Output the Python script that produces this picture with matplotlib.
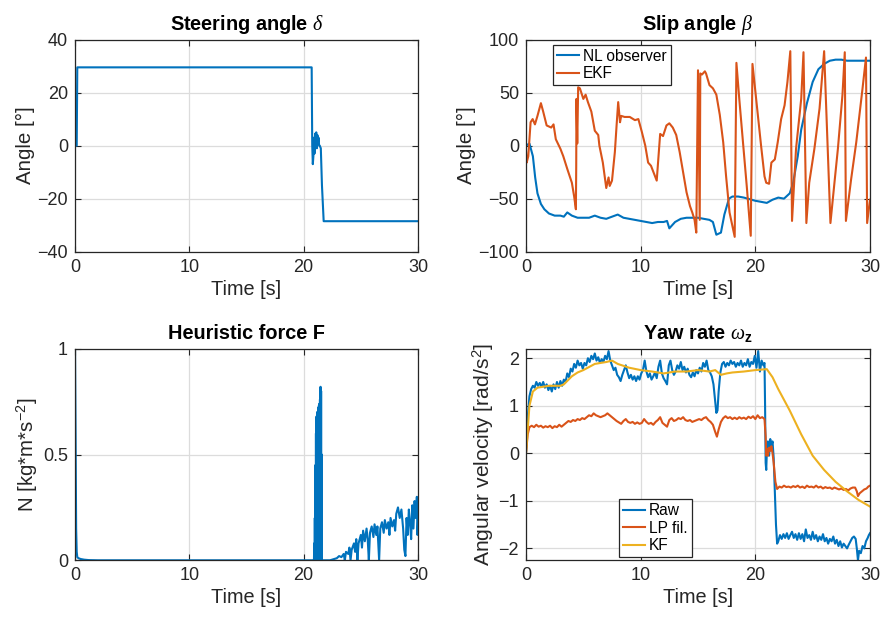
import matplotlib
matplotlib.use("Agg")
import matplotlib.pyplot as plt

plt.rcParams['font.family'] = ['Liberation Sans', 'DejaVu Sans']
plt.rcParams['mathtext.fontset'] = 'custom'
plt.rcParams['mathtext.rm'] = 'Liberation Sans'
plt.rcParams['mathtext.it'] = 'Liberation Serif:italic'
plt.rcParams['mathtext.bf'] = 'Liberation Sans:bold'

C_BLUE = '#0072BD'
C_ORANGE = '#D95319'
C_YELLOW = '#EDB120'
TXT = '#262626'

# ---------------- Data ----------------
x_ticks = [0, 10, 20, 30]

# Steering angle delta [deg]
steer_t = [0, 0.15, 0.2, 20.7, 20.75, 20.8, 20.85, 20.9, 20.95, 21.0, 21.05, 21.1, 21.15,
           21.2, 21.25, 21.3, 21.35, 21.4, 21.5, 21.6, 21.75, 30]
steer_v = [0, 0, 29.5, 29.5, 0, -7, -4, 3, -3, 4.5, 0, 5, -1, 4, 1, 3, 0, 0, -1, -15,
           -28.5, -28.5]

# Slip angle beta [deg]
nl_t = [0, 0.3, 0.6, 0.8, 1.0, 1.3, 1.6, 2.0, 2.5, 3.0, 3.3, 3.6, 4.0, 4.5, 5.0, 5.5, 6.0,
        6.5, 7.0, 7.5, 8.0, 8.5, 9.0, 10.0, 10.5, 11.0, 11.5, 12.0, 12.3, 12.5, 13.0, 13.5,
        14.0, 15.0, 16.0, 16.3, 16.6, 17.0, 17.3, 17.7, 18.0, 18.5, 19.0, 20.0, 20.5, 21.0,
        21.5, 22.0, 22.5, 23.0, 23.3, 23.7, 24.0, 24.5, 25.0, 25.5, 26.0, 26.5, 27.0, 27.5,
        28.0, 29.0, 30.0]
nl_v = [0, 2, -10, -30, -45, -55, -60, -64, -66, -66, -67, -63, -66, -68, -68, -68, -66,
        -68, -69, -67, -65, -68, -69, -71, -72, -73, -72, -72, -71, -78, -72, -69,
        -68, -68, -70, -72, -84, -82, -65, -50, -48, -48, -49, -52, -53, -54,
        -51, -49, -50, -45, -35, -10, 15, 40, 60, 72, 77, 80, 81, 81,
        80, 80, 80]

ekf_t = [0.0, 0.06, 0.2, 0.4, 0.58, 0.78, 1.0, 1.3, 1.5, 1.8, 2.2, 2.4, 2.6, 3.0, 3.25, 3.6,
         4.0, 4.2, 4.35, 4.38, 4.4, 4.47, 4.55, 4.7, 5.0, 5.2, 5.4, 5.7, 6.0, 6.3, 6.4, 6.7,
         7.0, 7.2, 7.3, 7.5, 7.75, 7.9, 8.04, 8.2, 8.3, 8.6, 9.05, 9.5, 9.8, 10.1, 10.4,
         10.65, 10.9, 11.4, 11.7, 11.95, 12.25, 12.5, 12.8, 13.1, 13.4, 13.7, 14.0, 14.3,
         14.5, 14.7, 14.85, 15.0, 15.15, 15.2, 15.35, 15.6, 15.7, 16.0, 16.3, 16.6, 16.9,
         17.2, 17.45, 17.75, 18.2, 18.35, 18.6, 18.9, 19.25, 19.6, 19.75, 20.1, 20.5, 20.8,
         20.95, 21.2, 21.4, 21.7, 21.95, 22.25, 22.55, 22.8, 23.05, 23.2, 23.55, 24.0, 24.2,
         24.45, 24.7, 25.15, 25.6, 26.0, 26.55, 26.9, 27.2, 27.6, 27.8, 27.9, 28.35, 28.8,
         29.35, 29.65, 29.75, 30.0]
ekf_v = [-5, -16, -10, 22, 25, 20, 28, 40, 32, 19, 17, 20, 6, -3, -10, -22,
         -35, -48, -60, -19, 44, 2, 55, 54, 44, 48, 41, 32, 14, 10, 0, -16,
         -40, -30, -38, -33, -6, 19, 41, 22, 28, 27, 27, 24, 25, 13, 0,
         -16, -19, -33, 11, 9, 19, 21, 17, 10, -6, -25, -44, -57,
         -63, -70, -82, 71, -70, 68, 67, 70, 68, 57, 54, 48, 29,
         3, -29, -63, -86, 78, 44, 6, -38, -85, 77, 41, 0, -29,
         -35, -36, -16, -13, 3, 25, 38, 60, 89, -71, -3, 44, 88,
         -73, -35, -3, 35, 89, -73, -35, -3, 48, 88, -71, -32, 3,
         54, 83, -73, -51]

# Heuristic force F
force_t = [0, 0.05, 0.1, 0.15, 0.2, 0.3, 0.5, 0.8, 1.2, 2.0, 20.85,
           20.9, 20.925, 20.95, 20.975, 21.0, 21.025, 21.05, 21.075, 21.1, 21.125, 21.15,
           21.175, 21.2, 21.225, 21.25, 21.275, 21.3, 21.325, 21.35, 21.375, 21.4, 21.425,
           21.45, 21.475, 21.5, 21.525, 21.55, 21.575, 21.6, 21.65,
           22.3, 22.6, 22.9, 23.1, 23.3, 23.5, 23.6, 23.7, 23.9, 24.0, 24.1, 24.2, 24.4,
           24.5, 24.6, 24.7, 24.8, 25.0, 25.1, 25.2, 25.35, 25.5, 25.6, 25.7, 25.8, 25.95,
           26.1, 26.2, 26.35, 26.45, 26.6, 26.7, 26.85, 27.0, 27.1, 27.25, 27.4, 27.5, 27.6,
           27.75, 27.9, 28.0, 28.1, 28.25, 28.4, 28.55, 28.7, 28.8, 28.9, 29.0, 29.1, 29.2,
           29.3, 29.4, 29.5, 29.6, 29.7, 29.8, 29.9, 29.95, 30.0]
force_v = [1.0, 0.6, 0.15, 0.04, 0.015, 0.01, 0.006, 0.003, 0.001, 0.0, 0.0,
           0.0, 0.08, 0.0, 0.2, 0.0, 0.45, 0.02, 0.6, 0.0, 0.68, 0.05,
           0.7, 0.0, 0.7, 0.1, 0.72, 0.0, 0.73, 0.05, 0.74, 0.0, 0.76,
           0.1, 0.82, 0.0, 0.8, 0.0, 0.5, 0.0, 0.0,
           0.0, 0.005, 0.01, 0.02, 0.015, 0.03, 0.0, 0.04, 0.03, 0.06, 0.0, 0.05, 0.08,
           0.04, 0.1, 0.0, 0.08, 0.12, 0.06, 0.14, 0.09, 0.15, 0.1, 0.0, 0.13, 0.16,
           0.11, 0.17, 0.12, 0.16, 0.0, 0.15, 0.18, 0.13, 0.19, 0.15, 0.18, 0.12, 0.2,
           0.16, 0.19, 0.14, 0.22, 0.25, 0.2, 0.24, 0.15, 0.05, 0.02, 0.2, 0.12, 0.24,
           0.18, 0.1, 0.26, 0.15, 0.28, 0.2, 0.3, 0.12, 0.18]

# Yaw rate omega_z
raw_t = [0.0, 0.15, 0.3, 0.45, 0.6, 0.75, 0.9, 1.05, 1.2, 1.35, 1.5, 1.65, 1.8, 1.95, 2.1,
         2.25, 2.4, 2.55, 2.7, 2.85, 3.0, 3.15, 3.3, 3.45, 3.6, 3.75, 3.9, 4.05, 4.2, 4.35,
         4.5, 4.65, 4.8, 4.95, 5.1, 5.25, 5.4, 5.55, 5.7, 5.85, 6.0, 6.15, 6.3, 6.45, 6.6,
         6.75, 6.9, 7.05, 7.2, 7.35, 7.5, 7.65, 7.8, 7.95, 8.1, 8.25, 8.4, 8.55, 8.7, 8.85,
         9.0, 9.15, 9.3, 9.45, 9.6, 9.75, 9.9, 10.05, 10.2, 10.35, 10.5, 10.65, 10.8, 10.95,
         11.1, 11.25, 11.4, 11.55, 11.7, 11.85, 12.0, 12.15, 12.3, 12.45, 12.6, 12.75, 12.9,
         13.05, 13.2, 13.35, 13.5, 13.65, 13.8, 13.95, 14.1, 14.25, 14.4, 14.55, 14.7, 14.85,
         15.0, 15.15, 15.3, 15.45, 15.6, 15.75, 15.9, 16.05, 16.2, 16.35, 16.5, 16.6, 16.7,
         16.8, 16.95, 17.1, 17.25, 17.4, 17.55, 17.7, 17.85, 18.0, 18.15, 18.3, 18.45, 18.6,
         18.75, 18.9, 19.05, 19.2, 19.35, 19.5, 19.65, 19.8, 19.95, 20.1, 20.25, 20.4, 20.55,
         20.7, 20.8, 20.85, 20.9, 20.95, 21.0, 21.1, 21.2, 21.3, 21.4, 21.5, 21.6, 21.7, 21.8,
         21.9, 22.0, 22.15, 22.3, 22.45, 22.6, 22.75, 22.9, 23.05, 23.2, 23.35, 23.5, 23.65,
         23.8, 23.95, 24.1, 24.25, 24.4, 24.55, 24.7, 24.85, 25.0, 25.15, 25.3, 25.45, 25.6,
         25.75, 25.9, 26.05, 26.2, 26.35, 26.5, 26.65, 26.8, 26.95, 27.1, 27.25, 27.4, 27.55,
         27.7, 27.85, 28.0, 28.15, 28.3, 28.45, 28.6, 28.75, 28.85, 28.95, 29.05, 29.2, 29.35,
         29.5, 29.65, 29.8, 29.9, 30.0]
raw_v = [0.0, 0.75, 1.2, 1.35, 1.42, 1.38, 1.5, 1.42, 1.48, 1.4, 1.5, 1.38, 1.45, 1.33, 1.42,
         1.3, 1.45, 1.35, 1.5, 1.38, 1.52, 1.42, 1.55, 1.5, 1.68, 1.6, 1.78, 1.72, 1.88, 1.8,
         1.95, 1.85, 1.9, 1.78, 1.9, 1.85, 2.0, 1.92, 2.05, 1.98, 2.1, 1.95, 2.02, 1.9, 1.98,
         1.92, 2.05, 1.98, 2.15, 1.95, 1.85, 1.75, 1.8, 1.65, 1.6, 1.52, 1.65, 1.75, 1.85, 1.7,
         1.58, 1.65, 1.55, 1.62, 1.52, 1.62, 1.55, 1.68, 1.75, 1.95, 1.72, 1.6, 1.68, 1.55,
         1.62, 1.7, 1.58, 1.82, 1.95, 1.68, 1.58, 1.52, 1.45, 1.85, 1.95, 1.75, 1.65,
         1.72, 1.85, 1.78, 1.92, 1.75, 1.82, 1.7, 1.78, 1.65, 1.6, 1.7, 1.62, 1.75,
         1.68, 1.8, 1.72, 1.9, 1.82, 1.95, 1.75, 1.7, 1.62, 1.45, 1.1, 0.85, 0.9,
         1.3, 1.7, 1.88, 1.92, 1.82, 1.9, 1.85, 1.95, 1.88, 1.92, 1.82, 1.9, 1.85,
         1.95, 1.82, 1.9, 1.85, 1.98, 1.82, 1.92, 1.88, 2.05, 1.8, 2.15, 1.72, 1.95,
         1.85, 1.9, 1.0, -0.2, -0.35, 0.0, 0.25, -0.05, 0.3, 0.15, 0.25, -0.1, -0.8, -1.5,
         -1.9, -1.85, -1.72, -1.8, -1.7, -1.78, -1.68, -1.8, -1.72, -1.65, -1.78, -1.7, -1.82,
         -1.68, -1.8, -1.7, -1.85, -1.6, -1.78, -1.72, -1.82, -1.65, -1.8, -1.72, -1.85, -1.75,
         -1.82, -1.7, -1.85, -1.78, -1.9, -1.8, -1.85, -1.75, -1.9, -1.82, -1.95, -1.85, -1.98,
         -1.9, -1.95, -2.0, -1.92, -1.85, -1.78, -1.75, -1.8, -2.0, -2.25, -2.05, -2.1, -1.95,
         -2.0, -1.85, -1.78, -1.72, -1.68]

lp_t = [0.0, 0.15, 0.3, 0.5, 0.7, 0.9, 1.1, 1.3, 1.5, 1.7, 1.9, 2.1, 2.3, 2.5, 2.7, 2.9, 3.1,
        3.3, 3.5, 3.7, 3.9, 4.1, 4.3, 4.5, 4.7, 4.9, 5.1, 5.3, 5.5, 5.7, 5.9, 6.1, 6.3, 6.5,
        6.7, 6.9, 7.1, 7.3, 7.5, 7.7, 7.9, 8.1, 8.3, 8.5, 8.7, 8.9, 9.1, 9.3, 9.5, 9.7, 9.9,
        10.1, 10.3, 10.5, 10.7, 10.9, 11.1, 11.3, 11.5, 11.7, 11.9, 12.1, 12.3, 12.5, 12.7,
        12.9, 13.1, 13.3, 13.5, 13.7, 13.9, 14.1, 14.3, 14.5, 14.7, 14.9, 15.1, 15.3, 15.5,
        15.7, 15.9, 16.1, 16.3, 16.5, 16.65, 16.8, 17.0, 17.2, 17.4, 17.6, 17.8, 18.0, 18.2,
        18.4, 18.6, 18.8, 19.0, 19.2, 19.4, 19.6, 19.8, 20.0, 20.2, 20.4, 20.6, 20.8, 20.9,
        20.95, 21.0, 21.1, 21.2, 21.3, 21.4, 21.5, 21.6, 21.75, 21.9, 22.1, 22.3, 22.5, 22.7,
        22.9, 23.1, 23.3, 23.5, 23.7, 23.9, 24.1, 24.3, 24.5, 24.7, 24.9, 25.1, 25.3, 25.5,
        25.7, 25.9, 26.1, 26.3, 26.5, 26.7, 26.9, 27.1, 27.3, 27.5, 27.7, 27.9, 28.1, 28.3,
        28.5, 28.7, 28.85, 28.95, 29.1, 29.3, 29.5, 29.7, 29.85, 30.0]
lp_v = [0.0, 0.4, 0.55, 0.58, 0.55, 0.6, 0.56, 0.58, 0.54, 0.57, 0.55, 0.58, 0.53, 0.57, 0.55,
        0.6, 0.56, 0.6, 0.64, 0.68, 0.66, 0.7, 0.68, 0.72, 0.7, 0.74, 0.72, 0.76, 0.8, 0.78,
        0.84, 0.8, 0.78, 0.76, 0.78, 0.8, 0.84, 0.8, 0.76, 0.72, 0.68, 0.65, 0.62, 0.68, 0.72,
        0.66, 0.64, 0.66, 0.62, 0.65, 0.62, 0.64, 0.72, 0.66, 0.62, 0.64, 0.6, 0.66, 0.7,
        0.76, 0.64, 0.6, 0.56, 0.7, 0.74, 0.68, 0.7, 0.74, 0.72, 0.76, 0.7, 0.68, 0.7, 0.66,
        0.68, 0.7, 0.72, 0.7, 0.74, 0.76, 0.7, 0.66, 0.6, 0.45, 0.35, 0.5, 0.66, 0.74, 0.78,
        0.74, 0.76, 0.72, 0.75, 0.72, 0.76, 0.73, 0.75, 0.72, 0.77, 0.74, 0.78, 0.72, 0.8,
        0.74, 0.76, 0.72, 0.35, -0.05, 0.1, -0.05, 0.12, 0.05, 0.15, 0.0, -0.2, -0.6, -0.75,
        -0.7, -0.72, -0.68, -0.71, -0.7, -0.72, -0.69, -0.71, -0.68, -0.72, -0.7, -0.73,
        -0.68, -0.71, -0.7, -0.72, -0.68, -0.72, -0.7, -0.74, -0.71, -0.73, -0.72, -0.75,
        -0.72, -0.74, -0.76, -0.74, -0.77, -0.75, -0.78, -0.74, -0.72, -0.72, -0.8, -0.9,
        -0.84, -0.8, -0.76, -0.74, -0.7, -0.68]

kf_t = [0, 0.3, 0.6, 1.0, 1.5, 2.0, 3.0, 3.3, 4.0, 4.5, 5.0, 6.0, 7.0, 7.5, 8.0, 9.0, 10.0,
        11.0, 12.0, 13.0, 14.0, 15.0, 16.0, 16.5, 17.0, 17.5, 18.0, 19.0, 20.0, 21.0, 21.5,
        22.0, 23.0, 24.0, 25.0, 26.0, 27.0, 28.0, 29.0, 30.0]
kf_v = [0, 1.0, 1.3, 1.38, 1.4, 1.42, 1.42, 1.45, 1.62, 1.7, 1.75, 1.88, 1.92, 1.95, 1.88,
        1.8, 1.75, 1.72, 1.68, 1.72, 1.72, 1.75, 1.72, 1.75, 1.65, 1.68, 1.7, 1.72, 1.75,
        1.77, 1.6, 1.35, 0.9, 0.4, -0.05, -0.35, -0.6, -0.8, -0.98, -1.12]

# ---------------- Figure ----------------
fig = plt.figure(figsize=(8.86, 6.23), dpi=100)
W, H = 886, 623

def make_ax(l, r, t, b):
    return fig.add_axes([l / W, 1 - b / H, (r - l) / W, (b - t) / H])

ax1 = make_ax(75, 418, 39.5, 251.7)
ax2 = make_ax(526, 870, 39.5, 251.7)
ax3 = make_ax(75, 418, 348.7, 560.3)
ax4 = make_ax(526, 870, 348.7, 560.3)

LW = 1.5

def style(ax, yticks, ylim, yticklabels=None):
    ax.set_xlim(0, 30)
    ax.set_ylim(*ylim)
    ax.set_xticks(x_ticks)
    ax.set_yticks(yticks)
    if yticklabels is not None:
        ax.set_yticklabels(yticklabels)
    ax.grid(True, color='#dcdcdc', linewidth=0.9)
    ax.set_axisbelow(True)
    ax.tick_params(direction='in', length=4, width=0.8, colors=TXT, labelsize=13,
                   top=True, right=True, pad=5)
    for s in ax.spines.values():
        s.set_color(TXT)
        s.set_linewidth(0.9)
    ax.set_xlabel('Time [s]', fontsize=14.3, color=TXT, labelpad=3)

LEG = dict(fontsize=11.2, fancybox=False, framealpha=1, edgecolor=TXT, borderaxespad=0,
           handlelength=1.45, handletextpad=0.25, borderpad=0.25, labelspacing=0.15)

# Steering
ax1.plot(steer_t, steer_v, color=C_BLUE, lw=LW)
style(ax1, [-40, -20, 0, 20, 40], (-40, 40))
ax1.set_title(r'Steering angle $\delta$', fontsize=14.3, fontweight='bold', pad=7)
ax1.set_ylabel('Angle [°]', fontsize=14.8, color=TXT, labelpad=2)

# Slip
ax2.plot(nl_t, nl_v, color=C_BLUE, lw=LW, label='NL observer')
ax2.plot(ekf_t, ekf_v, color=C_ORANGE, lw=LW, label='EKF')
style(ax2, [-100, -50, 0, 50, 100], (-100, 100))
ax2.set_title(r'Slip angle $\beta$', fontsize=14.3, fontweight='bold', pad=7)
ax2.set_ylabel('Angle [°]', fontsize=14.8, color=TXT, labelpad=2)
leg = ax2.legend(loc='upper left', bbox_to_anchor=(0.078, 0.975), **LEG)
leg.get_frame().set_linewidth(0.9)

# Force
ax3.plot(force_t, force_v, color=C_BLUE, lw=LW)
style(ax3, [0, 0.5, 1], (0, 1), ['0', '0.5', '1'])
ax3.set_title('Heuristic force F', fontsize=14.3, fontweight='bold', pad=7)
ax3.set_ylabel(r'N [kg*m*s$^{-2}$]', fontsize=14.8, color=TXT, labelpad=2)

# Yaw
ax4.plot(raw_t, raw_v, color=C_BLUE, lw=LW, label='Raw')
ax4.plot(lp_t, lp_v, color=C_ORANGE, lw=LW, label='LP fil.')
ax4.plot(kf_t, kf_v, color=C_YELLOW, lw=LW, label='KF')
style(ax4, [-2, -1, 0, 1, 2], (-2.25, 2.2))
ax4.set_title(r'Yaw rate $\omega_{\mathbf{z}}$', fontsize=14.3, fontweight='bold', pad=7)
ax4.set_ylabel(r'Angular velocity [rad/s$^2$]', fontsize=15.2, color=TXT, labelpad=2)
leg = ax4.legend(loc='lower left', bbox_to_anchor=(0.27, 0.016), **LEG)
leg.get_frame().set_linewidth(0.9)

fig.savefig('out.png', dpi=100)
